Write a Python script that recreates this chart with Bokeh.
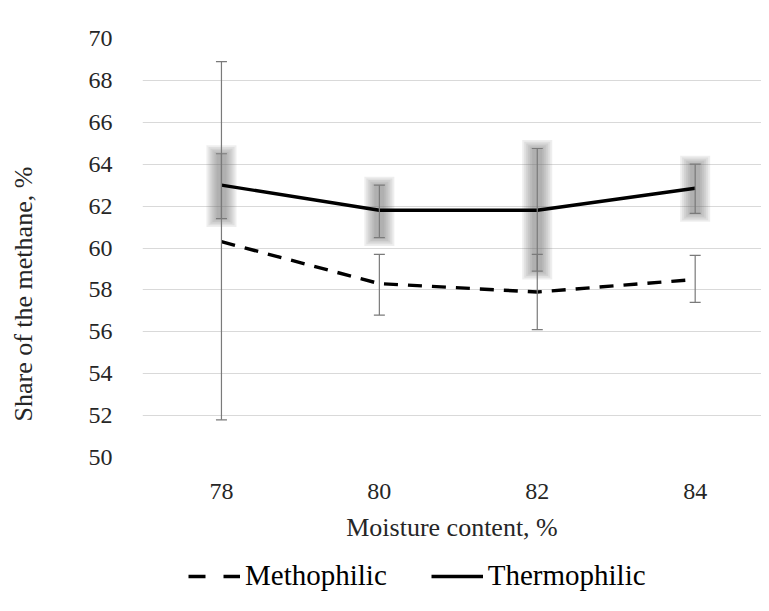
from bokeh.plotting import figure
from bokeh.layouts import column, row
from bokeh.models import (ColumnDataSource, Whisker, FixedTicker, Legend, LegendItem,
                          Label, TeeHead)
from bokeh.embed import file_html
from bokeh.resources import INLINE

moisture = [78, 80, 82, 84]
x_ticks = [78, 80, 82, 84]
y_ticks = [50, 52, 54, 56, 58, 60, 62, 64, 66, 68, 70]

thermo = [63.0, 61.8, 61.8, 62.85]
thermo_hi = [64.5, 63.0, 64.75, 64.0]
thermo_lo = [61.4, 60.5, 58.9, 61.65]

metho = [60.3, 58.3, 57.9, 58.5]
metho_hi = [68.9, 59.7, 59.7, 59.65]
metho_lo = [51.8, 56.8, 56.1, 57.4]

FONT = "Liberation Serif"
TXT = "#262626"
W = 761
YW = 46

p = figure(width=W - YW, height=550, x_range=(77, 84.84), y_range=(50, 70),
           output_backend="svg", toolbar_location=None,
           min_border_left=142 - YW, min_border_right=0, min_border_top=38,
           min_border_bottom=93)
p.outline_line_color = None
p.background_fill_color = "white"
p.border_fill_color = "white"

p.xgrid.grid_line_color = None
p.ygrid.grid_line_color = "#d9d9d9"
p.ygrid.grid_line_width = 1
p.yaxis.ticker = FixedTicker(ticks=y_ticks)
p.xaxis.ticker = FixedTicker(ticks=x_ticks)

for ax in (p.xaxis[0], p.yaxis[0]):
    ax.axis_line_color = None
    ax.major_tick_line_color = None
    ax.minor_tick_line_color = None
    ax.major_label_text_font = FONT
    ax.major_label_text_color = TXT
    ax.major_label_text_font_size = "24px"
    ax.axis_label_text_font = FONT
    ax.axis_label_text_color = TXT
    ax.axis_label_text_font_size = "26px"
    ax.axis_label_text_font_style = "normal"

p.yaxis.major_label_standoff = 24
p.xaxis.major_label_standoff = 20
p.xaxis.axis_label = "Moisture content, %"
p.xaxis.axis_label_standoff = 11

src = ColumnDataSource(dict(x=moisture, thermo=thermo, thermo_hi=thermo_hi,
                            thermo_lo=thermo_lo, metho=metho, metho_hi=metho_hi,
                            metho_lo=metho_lo))

# blurred grey error bands for thermophilic
mid = [(a + b) / 2 for a, b in zip(thermo_hi, thermo_lo)]
span = [a - b for a, b in zip(thermo_hi, thermo_lo)]
layers = [(30, 0.40), (26, 0.32), (22, 0.24), (18, 0.16), (14, 0.08), (10, 0.0)]
for w, ext in layers:
    p.rect(x=moisture, y=mid, width=w, height=[s + 2 * ext for s in span],
           width_units="screen", fill_color="#686868", fill_alpha=0.115,
           line_color=None)

# whiskers
for lo, hi in (("thermo_lo", "thermo_hi"), ("metho_lo", "metho_hi")):
    wk = Whisker(source=src, base="x", lower=lo, upper=hi,
                 line_color="#7a7a7a", line_width=1.2,
                 upper_head=TeeHead(size=11, line_color="#7a7a7a", line_width=1.2),
                 lower_head=TeeHead(size=11, line_color="#7a7a7a", line_width=1.2),
                 level="glyph")
    p.add_layout(wk)

p.line("x", "metho", source=src, line_color="black", line_width=3.4,
       line_dash="14 10")
p.line("x", "thermo", source=src, line_color="black", line_width=3.4)

# y-axis title strip on the left
yf = figure(width=YW, height=550, x_range=(0, 1), y_range=(50, 70),
            output_backend="svg", toolbar_location=None,
            x_axis_location=None, y_axis_location=None,
            min_border_left=0, min_border_right=0, min_border_top=38,
            min_border_bottom=93)
yf.outline_line_color = None
yf.xgrid.grid_line_color = None
yf.ygrid.grid_line_color = None
yf.add_layout(Label(x=0.5, y=57.8, text="Share of the methane, %", angle=1.5708,
                    text_align="center", text_baseline="middle", text_font=FONT,
                    text_font_size="26px", text_color=TXT))

# legend strip (same series, drawn outside its visible range; only the legend shows)
lg = figure(width=W, height=53, x_range=(0, 1), y_range=(0, 1),
            output_backend="svg", toolbar_location=None,
            x_axis_location=None, y_axis_location=None,
            min_border_left=142, min_border_right=0, min_border_top=0,
            min_border_bottom=0)
lg.outline_line_color = None
lg.xgrid.grid_line_color = None
lg.ygrid.grid_line_color = None
lm = lg.line(moisture, metho, line_color="black", line_width=3.4,
             line_dash="17 18")
lt = lg.line(moisture, thermo, line_color="black", line_width=3.4)
legend = Legend(items=[LegendItem(label="Methophilic", renderers=[lm]),
                       LegendItem(label="Thermophilic", renderers=[lt])],
                orientation="horizontal", location=(46, 11),
                glyph_width=52, glyph_height=28, label_standoff=5, spacing=44,
                padding=0, margin=0, border_line_color=None,
                background_fill_alpha=0,
                label_text_font=FONT, label_text_font_size="29px",
                label_text_color="black")
lg.add_layout(legend, "center")

layout = column(row(yf, p, spacing=0), lg, spacing=0)
open("out.html", "w").write(file_html(layout, INLINE))
